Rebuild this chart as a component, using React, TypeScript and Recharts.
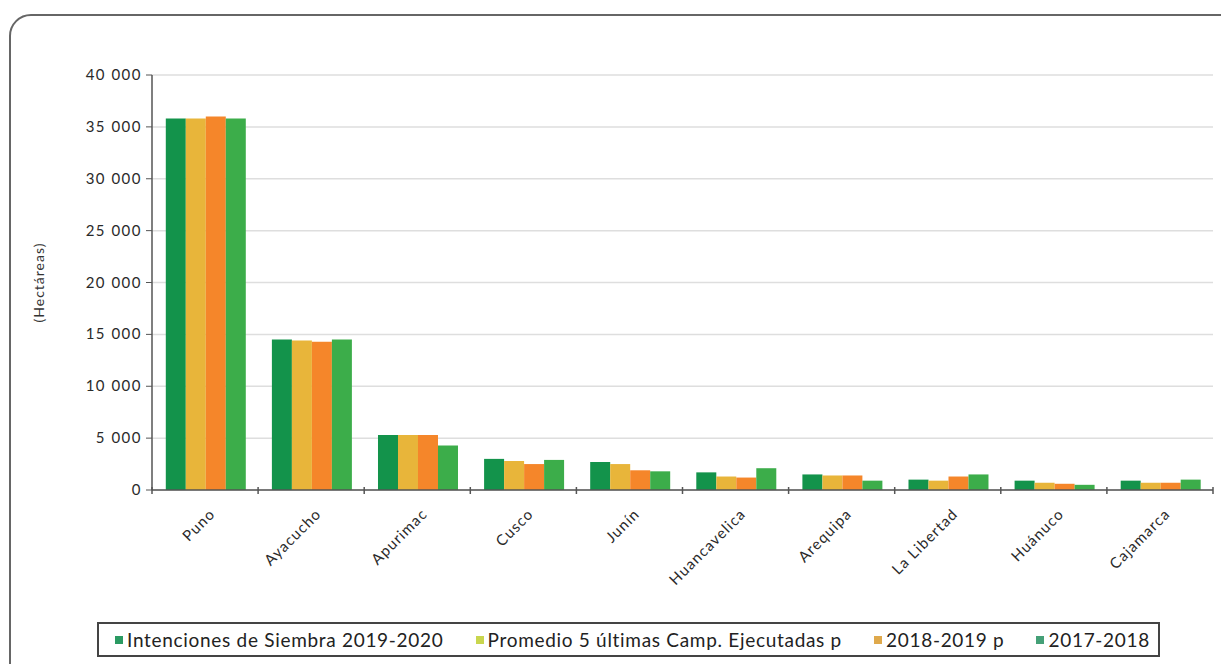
import React from "react";
import { BarChart, Bar, XAxis, YAxis, CartesianGrid, Legend } from "recharts";

const categories = ["Puno", "Ayacucho", "Apurimac", "Cusco", "Junín", "Huancavelica", "Arequipa", "La Libertad", "Huánuco", "Cajamarca"];
const intenciones = [35800, 14500, 5300, 3000, 2700, 1700, 1500, 1000, 900, 900];
const promedio = [35800, 14400, 5300, 2800, 2500, 1300, 1400, 900, 700, 700];
const c2018 = [36000, 14300, 5300, 2500, 1900, 1200, 1400, 1300, 600, 700];
const c2017 = [35800, 14500, 4300, 2900, 1800, 2100, 900, 1500, 500, 1000];
const yTicks = [0, 5000, 10000, 15000, 20000, 25000, 30000, 35000, 40000];

const seriesNames = [
  "Intenciones de Siembra 2019-2020",
  "Promedio 5 últimas Camp. Ejecutadas p",
  "2018-2019 p",
  "2017-2018",
];
const colors = ["#13934b", "#e8b53a", "#f5862a", "#3cad4a"];
const legendColors = ["#2a9a62", "#c9d64e", "#dfa94c", "#45a077"];

const data = categories.map((c, i) => ({
  name: c,
  s1: intenciones[i],
  s2: promedio[i],
  s3: c2018[i],
  s4: c2017[i],
}));

const FONT = "Lato, 'Open Sans', sans-serif";
const PLOT_LEFT = 152;
const PLOT_RIGHT = 1213;
const BW = (PLOT_RIGHT - PLOT_LEFT) / categories.length;

const fmt = (v: number) => (v === 0 ? "0" : `${Math.floor(v / 1000)} ${String(v % 1000).padStart(3, "0")}`);

const XTick = (props: any) => {
  const { x, y, payload, index } = props;
  const ax = x + 11;
  const ay = y + 17;
  return (
    <g>
      <line x1={x - BW / 2} x2={x - BW / 2} y1={y - 11} y2={y - 4} stroke="#555" strokeWidth={1.5} />
      {index === categories.length - 1 && (
        <line x1={x + BW / 2} x2={x + BW / 2} y1={y - 11} y2={y - 4} stroke="#555" strokeWidth={1.5} />
      )}
      <text
        x={ax}
        y={ay}
        textAnchor="end"
        fontSize={15}
        letterSpacing={1.1}
        fontFamily={FONT}
        fill="#2a2a2a"
        transform={`rotate(-45, ${ax}, ${ay})`}
      >
        {payload.value}
      </text>
    </g>
  );
};

const YTick = (props: any) => {
  const { x, y, payload } = props;
  return (
    <text x={x - 2} y={y + 5} textAnchor="end" fontSize={15} letterSpacing={1.5} fontFamily={FONT} fill="#2a2a2a">
      {fmt(payload.value)}
    </text>
  );
};

const LegendBox = () => (
  <div
    style={{
      boxSizing: "border-box",
      width: 1063,
      height: 35,
      border: "2px solid #444",
      display: "flex",
      alignItems: "center",
      justifyContent: "space-between",
      fontFamily: FONT,
      fontSize: 19,
      letterSpacing: 0.7,
      color: "#222",
      background: "#fff",
      padding: "0 8px 0 16px",
      whiteSpace: "nowrap",
    }}
  >
    {seriesNames.map((n, i) => (
      <span key={n} style={{ display: "flex", alignItems: "center" }}>
        <span style={{ display: "inline-block", width: 8, height: 8, background: legendColors[i], marginRight: 4 }} />
        {n}
      </span>
    ))}
  </div>
);

export default function App() {
  return (
    <div style={{ position: "relative", margin: -8, width: 1229, height: 672, background: "#fff", overflow: "hidden" }}>
      <div
        style={{
          position: "absolute",
          left: 9,
          top: 14,
          width: 1240,
          height: 700,
          border: "2px solid #666",
          borderRadius: 22,
          boxSizing: "border-box",
        }}
      />
      <div style={{ position: "absolute", left: 0, top: 0 }}>
        <BarChart
          width={1229}
          height={672}
          data={data}
          margin={{ top: 75, right: 16, bottom: 0, left: 20 }}
          barCategoryGap="13%"
          barGap={0}
        >
          <CartesianGrid vertical={false} stroke="#dedede" strokeWidth={1.5} />
          <XAxis
            dataKey="name"
            tick={<XTick />}
            tickLine={false}
            axisLine={{ stroke: "#555", strokeWidth: 1.5 }}
            height={147}
            interval={0}
          />
          <YAxis
            domain={[0, 40000]}
            ticks={yTicks}
            tick={<YTick />}
            width={132}
            tickLine={{ stroke: "#555" }}
            tickSize={6}
            axisLine={{ stroke: "#555", strokeWidth: 1.5 }}
            label={{
              value: "(Hectáreas)",
              angle: -90,
              position: "insideLeft",
              offset: 19,
              style: { fontSize: 14, letterSpacing: 1, fontFamily: FONT, fill: "#333", textAnchor: "middle" },
            }}
          />
          <Legend
            content={<LegendBox />}
            wrapperStyle={{ position: "absolute", left: 97, top: 622, width: 1063, height: 35 }}
          />
          <Bar dataKey="s1" name={seriesNames[0]} fill={colors[0]} isAnimationActive={false} />
          <Bar dataKey="s2" name={seriesNames[1]} fill={colors[1]} isAnimationActive={false} />
          <Bar dataKey="s3" name={seriesNames[2]} fill={colors[2]} isAnimationActive={false} />
          <Bar dataKey="s4" name={seriesNames[3]} fill={colors[3]} isAnimationActive={false} />
        </BarChart>
      </div>
    </div>
  );
}
